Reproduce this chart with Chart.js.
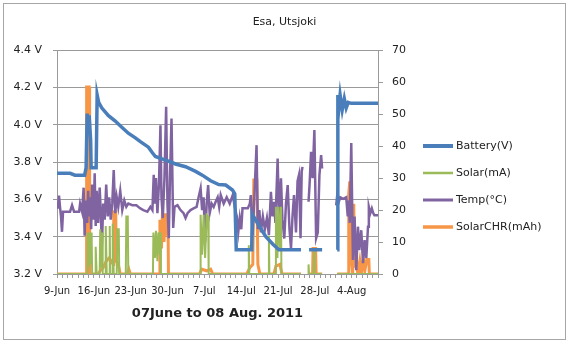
<!DOCTYPE html>
<html>
<head>
<meta charset="utf-8">
<script src="https://cdn.jsdelivr.net/npm/chart.js@4.4.1/dist/chart.umd.min.js"></script>
<style>
  body { margin: 0; background: #fff; }
  #wrap { width: 569px; height: 344px; }
</style>
</head>
<body>
<div id="wrap"><canvas id="esaChart" width="569" height="344"></canvas></div>
<script>
// days counted from 9 June 2011
const tickLabels = ['9-Jun', '16-Jun', '23-Jun', '30-Jun', '7-Jul', '14-Jul', '21-Jul', '28-Jul', '4-Aug'];

const batteryDays = [0, 2.5, 3.4, 5.25, 5.53, 5.73, 5.92, 6.11, 6.39, 6.49, 7.44, 7.63, 7.92, 8.53, 9.73, 11.07, 12.21, 13.55, 14.89, 15.84,
  17.37, 18.13, 18.7, 19.66, 21.18, 22.52, 24.43, 26.34, 27.61, 29.2, 30.73, 32.06, 33.34, 33.78, 34.06, 37.0, 37.1, 38.36, 39.69, 41.03,
  42.18, 46.37, 46.5, 47.9, 50.38, 50.5, 53.24, 53.37, 53.6, 53.8, 54.2, 54.6, 54.96, 55.34, 55.9, 61];
const batteryV = [3.74, 3.74, 3.73, 3.73, 3.77, 4.06, 3.99, 4.05, 3.92, 3.77, 3.77, 4.16, 4.12, 4.09, 4.05, 4.02, 3.99, 3.955, 3.93, 3.91,
  3.88, 3.85, 3.83, 3.82, 3.805, 3.79, 3.775, 3.75, 3.73, 3.70, 3.68, 3.677, 3.65, 3.63, 3.33, 3.33, 3.52, 3.46, 3.40, 3.36,
  3.33, 3.33, null, 3.33, 3.33, null, 3.33, 4.16, 4.10, 4.16, 4.08, 4.14, 4.09, 4.12, 4.115, 4.115];

const solarDays = [0, 5.73, 5.82, 6.01, 6.2, 6.39, 6.58, 6.68, 7.25, 7.35, 7.54, 8.11, 8.21, 8.4, 8.59, 8.68, 9.16, 9.26, 9.45, 9.92,
  10.02, 10.11, 10.5, 10.59, 10.78, 11.35, 11.45, 11.74, 11.83, 13.07, 13.17, 13.45, 13.55, 18.23, 18.32, 18.61, 18.8, 19.08, 19.27, 19.56,
  19.66, 19.75, 27.2, 27.29, 27.58, 27.86, 28.15, 28.44, 28.72, 28.82, 36.35, 36.45, 36.54, 40.17, 40.27, 40.36, 41.51, 41.6, 41.89, 42.08,
  42.37, 42.56, 42.65, 46.37, 46.5, 47.71, 47.8, 47.9, 48.76, 48.85, 48.95, 50.38, 50.5, 53.24, 61];
const solarMA = [0, 0, 13, 2, 13, 3, 13, 0, 0, 8.5, 0, 0, 14, 2, 13, 0, 0, 15, 0, 0,
  15, 0, 0, 15.8, 0, 0, 14, 14, 0, 0, 18, 18, 0, 0, 13, 5, 13.5, 4, 13, 6,
  13, 0, 0, 18.5, 6, 18.5, 5, 18.5, 18, 0, 0, 9, 0, 0, 12, 0, 0, 21, 5, 21,
  8, 21, 0, 0, null, 0, 3, 0, 0, 7.5, 0, 0, null, 0, 0];

const tempDays = [0, 0.19, 0.38, 0.57, 0.76, 0.95, 1.15, 1.53, 2.48, 2.86, 3.24, 4.2, 4.39, 4.77, 5.06, 5.25, 5.44, 5.73, 5.92, 6.11,
  6.3, 6.49, 6.68, 6.97, 7.16, 7.35, 7.54, 7.82, 8.11, 8.3, 8.53, 8.78, 9.06, 9.35, 9.64, 9.92, 10.21, 10.5, 10.78, 11.07,
  11.35, 11.64, 12.02, 12.4, 12.79, 13.17, 13.55, 14.31, 15.08, 15.84, 16.41, 17.18, 17.75, 18.13, 18.38, 18.61, 18.8, 19.08, 19.37, 19.66,
  19.85, 20.1, 20.42, 20.74, 20.99, 21.24, 21.47, 21.76, 22.08, 22.33, 22.9, 23.47, 24.05, 24.43, 24.81, 25.38, 25.95, 26.53, 26.91, 27.29,
  27.58, 27.86, 28.15, 28.44, 28.72, 29.01, 29.39, 29.77, 30.15, 30.53, 30.82, 31.11, 31.68, 32.25, 32.82, 33.4, 33.78, 34.16, 34.45, 34.73,
  35.02, 35.25, 36.26, 36.64, 36.83, 37.16, 37.4, 37.6, 37.92, 38.17, 38.45, 38.74, 39.12, 39.5, 39.89, 40.27, 40.65, 40.94, 41.22, 41.51,
  41.93, 42.18, 42.56, 42.84, 43.19, 43.51, 43.84, 44.18, 44.47, 44.75, 45.04, 45.42, 45.71, 45.99, 46.28, 46.5, 46.65, 46.8, 47.8, 47.99,
  48.28, 48.57, 48.91, 49.24, 49.56, 49.87, 50.19, 50.38, 50.5, 53.05, 53.24, 53.44, 53.82, 54.39, 54.96, 55.25, 55.44, 55.63, 55.92, 56.24,
  56.55, 56.87, 57.19, 57.44, 57.82, 58.15, 58.45, 58.78, 59.1, 59.26, 59.54, 59.83, 60.11, 60.31, 61];
const tempC = [22.6, 20.5, 24.5, 21, 18, 13.2, 19.5, 19.5, 19.5, 21.5, 19.5, 19.5, 22, 19.5, 27, 12, 23, 16, 26, 18,
  24, 14, 28, 17, 31.5, 15, 26, 16, 27, 20, 8.5, 22, 17, 28, 18, 24, 17, 22, 32.5, 19,
  24, 21, 26, 20, 23, 21, 22, 21.5, 21.5, 20.5, 20, 19.5, 21, 20, 31, 22, 30, 19, 28, 46.5,
  24, 17.5, 30, 52.3, 22, 11.2, 30, 48.6, 14.4, 21, 21.5, 20, 19, 17.5, 19, 20, 20.5, 21, 24, 26.8,
  20, 24, 10, 22, 27.8, 19, 22, 21, 22.6, 24, 21, 24.7, 22, 24, 22, 24.7, 21, 18, 13.2, 17.5,
  14, 20.6, 20.6, 22, 24.7, 12.2, 20, 28, 40.3, 14, 20, 13, 18, 14, 17.5, 12.2, 25.7, 18, 22.6, 16,
  36.1, 18, 29.9, 17, 11.1, 22, 27.8, 14, 8, 18, 24.7, 13, 29, 31, 11.2, 32, 33.5, null, 22.6, 27.8,
  38.2, 30, 45, 11.2, 13, 31, 37.2, 33, null, 21.5, 24.5, 22, 24, 23.5, 24, 18, 23, 16, 41, 4.4,
  18, 1.2, 14.8, 7.5, 13.7, 3.4, 10.6, 5, 14.8, 21, 19, 20.5, 19, 18.4, 18.4];

const chrDays = [0, 5.53, 5.63, 6.11, 6.2, 7.82, 8.21, 8.78, 9.35, 9.92, 10.31, 10.69, 10.78, 11.16, 11.26, 11.64, 12.02, 13.36, 13.65, 13.93,
  19.47, 19.56, 19.85, 20.04, 20.33, 20.61, 20.9, 21.09, 21.18, 27.1, 27.48, 28.44, 29.2, 29.58, 36.07, 36.64, 37.21, 37.4, 37.98, 38.17,
  38.55, 41.22, 41.6, 42.37, 42.75, 46.37, 46.5, 47.71, 48.57, 48.66, 49.14, 49.24, 50.38, 50.5, 53.24, 55.34, 55.44, 55.63, 55.82, 56.01,
  56.2, 56.39, 56.58, 56.87, 57.16, 57.54, 57.82, 58.21, 58.49, 58.87, 59.26, 59.35, 61];
const chrMAh = [0, 0, 58.5, 58.5, 0, 0, 1, 2, 4, 5, 4, 3, 19.5, 19.5, 4, 3, 0, 0, 1.5, 0,
  0, 17, 8, 19.5, 10, 19, 12, 18, 0, 0, 1.5, 1, 1.5, 0, 0, 2, 3, 29.4, 29.4, 3,
  0, 0, 2.5, 3, 0, 0, null, 0, 0, 8, 8, 0, 0, null, 0, 0, 25, 29, 22, 3,
  0, 22, 2, 5, 0, 4, 0, 5, 1, 4.5, 4.5, 0, 0];

function pts(xs, ys) {
  return xs.map((x, i) => ({ x: x, y: ys[i] }));
}

const FONT = 'DejaVu Sans';
const TXT = '#222';
const GRID = '#9a9a9a';

const framePlugin = {
  id: 'frame',
  beforeDraw(chart) {
    const c = chart.ctx;
    c.save();
    c.fillStyle = '#fff';
    c.fillRect(0, 0, chart.width, chart.height);
    c.strokeStyle = '#a6a6a6';
    c.lineWidth = 1;
    c.strokeRect(3.5, 3.5, 562, 336);
    c.restore();
  }
};

// Excel-style legend to the right of the plot (line sample + label)
const sideLegend = {
  id: 'sideLegend',
  afterDraw(chart) {
    const c = chart.ctx;
    const x0 = chart.chartArea.right + 45;
    c.save();
    c.font = '11px "' + FONT + '"';
    c.textBaseline = 'middle';
    c.textAlign = 'left';
    chart.data.datasets.forEach((ds, i) => {
      const y = 146 + i * 27;
      c.strokeStyle = ds.borderColor;
      c.lineWidth = ds.borderWidth + 0.5;
      c.beginPath();
      c.moveTo(x0, y);
      c.lineTo(x0 + 30, y);
      c.stroke();
      c.fillStyle = TXT;
      c.fillText(ds.label, x0 + 33, y);
    });
    c.restore();
  }
};

new Chart(document.getElementById('esaChart'), {
  type: 'line',
  data: {
    datasets: [
      { label: 'Battery(V)', data: pts(batteryDays, batteryV), yAxisID: 'y',
        borderColor: '#4A7EBB', backgroundColor: '#4A7EBB', borderWidth: 3.5 },
      { label: 'Solar(mA)', data: pts(solarDays, solarMA), yAxisID: 'y1',
        borderColor: '#9BBB59', backgroundColor: '#9BBB59', borderWidth: 2 },
      { label: 'Temp(°C)', data: pts(tempDays, tempC), yAxisID: 'y1',
        borderColor: '#8064A2', backgroundColor: '#8064A2', borderWidth: 2.5 },
      { label: 'SolarCHR(mAh)', data: pts(chrDays, chrMAh), yAxisID: 'y1',
        borderColor: '#F79646', backgroundColor: '#F79646', borderWidth: 3 }
    ]
  },
  options: {
    responsive: false,
    animation: false,
    spanGaps: false,
    elements: { point: { radius: 0 }, line: { tension: 0 } },
    layout: { padding: 0 },
    plugins: {
      tooltip: { enabled: false },
      legend: { display: false },
      title: {
        display: true,
        text: 'Esa, Utsjoki',
        color: TXT,
        font: { family: FONT, size: 11, weight: 'normal' },
        padding: { top: 16, bottom: 21 }
      }
    },
    scales: {
      x: {
        type: 'linear',
        min: 0,
        max: 61,
        grid: { drawOnChartArea: false, drawTicks: true, tickLength: 4, color: GRID },
        border: { color: GRID },
        ticks: {
          stepSize: 1,
          autoSkip: false,
          maxRotation: 0,
          padding: 7,
          color: TXT,
          font: { family: FONT, size: 10 },
          callback: (v) => (v % 7 === 0 ? tickLabels[v / 7] : '')
        },
        title: {
          display: true,
          text: '07June to 08 Aug. 2011',
          color: TXT,
          font: { family: FONT, size: 13, weight: 'bold' },
          padding: { top: 0, bottom: 23 }
        },
        afterFit: (s) => { s.height = 70; }
      },
      y: {
        position: 'left',
        min: 3.2,
        max: 4.4,
        grid: { color: GRID, tickLength: 4 },
        border: { color: GRID },
        ticks: {
          stepSize: 0.2,
          padding: 11,
          color: TXT,
          font: { family: FONT, size: 11 },
          callback: (v) => v.toFixed(1) + ' V'
        },
        afterFit: (s) => { s.width = 57; }
      },
      y1: {
        position: 'right',
        min: 0,
        max: 70,
        grid: { drawOnChartArea: false, color: GRID, tickLength: 5 },
        border: { color: GRID },
        ticks: {
          stepSize: 10,
          padding: 9,
          color: TXT,
          font: { family: FONT, size: 11 }
        },
        afterFit: (s) => { s.width = 569 - 378; }
      }
    }
  },
  plugins: [framePlugin, sideLegend]
});
</script>
</body>
</html>
